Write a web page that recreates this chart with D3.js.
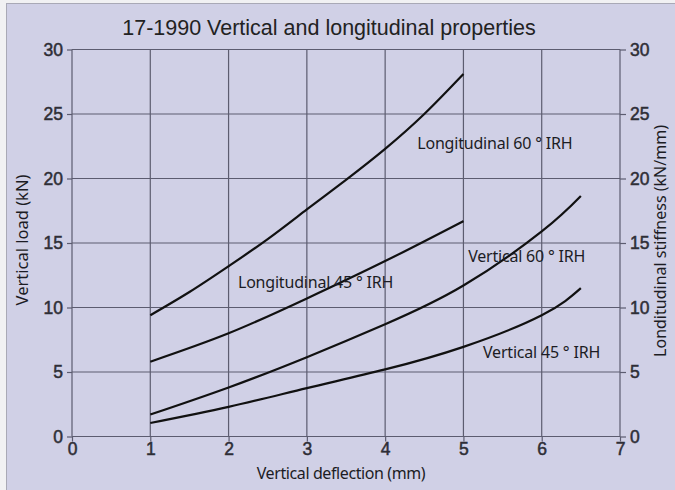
<!DOCTYPE html>
<html lang="en">
	<head>
		<meta charset="UTF-8">
		<title>17-1990 Vertical and longitudinal properties</title>
		<script src="https://d3js.org/d3.v7.min.js"></script>
		<style>
			body {
				margin: 0;
				background: #f1f1f3;
			}

			.tick text {
				font-family: "Liberation Sans", Arial, sans-serif;
				font-size: 17.5px;
				fill: #2e2e36;
				stroke: #2e2e36;
				stroke-width: 0.5;
			}

			.grid line {
				stroke: #5c5c70;
				stroke-width: 1.2;
			}

			.curve {
				fill: none;
				stroke: #111;
				stroke-width: 2.2;
			}

			.label {
				font-family: "Noto Sans", "Open Sans", sans-serif;
				font-size: 16px;
				letter-spacing: -0.2px;
				fill: #1c1c24;
			}

			.title {
				font-family: "Noto Sans", sans-serif;
				fill: #1c1c24;
				text-anchor: middle;
			}
		</style>
	</head>
	<body>
		<div id="chart"></div>
		<script>
			const xTicks = [0, 1, 2, 3, 4, 5, 6, 7]
			const yTicks = [0, 5, 10, 15, 20, 25, 30]

			// curves
			const long60X = [1, 1.5, 2, 2.5, 3, 3.5, 4, 4.5, 5]
			const long60Y = [9.4, 11.2, 13.2, 15.3, 17.6, 19.9, 22.3, 25.0, 28.1]
			const long45X = [1, 2, 3, 4, 5]
			const long45Y = [5.8, 8.0, 10.7, 13.6, 16.7]
			const vert60X = [1, 2, 3, 4, 5, 6, 6.5]
			const vert60Y = [1.7, 3.8, 6.15, 8.7, 11.7, 15.9, 18.65]
			const vert45X = [1, 2, 3, 4, 5, 6, 6.5]
			const vert45Y = [1.05, 2.3, 3.75, 5.2, 6.95, 9.4, 11.5]

			const curveNames = ["Longitudinal 60 ° IRH", "Longitudinal 45 ° IRH", "Vertical 60 ° IRH", "Vertical 45 ° IRH"]
			const labelX = [4.41, 2.12, 5.06, 5.25]
			const labelY = [22.3, 11.5, 13.5, 6.1]

			const width = 675
			const height = 490

			const svg = d3.select("#chart").append("svg")
				.attr("width", width)
				.attr("height", height)

			svg.append("rect")
				.attr("x", 6.5)
				.attr("y", 3.5)
				.attr("width", width)
				.attr("height", height)
				.attr("fill", "#d0d0e6")
				.attr("stroke", "#a9a9b6")

			const x = d3.scaleLinear().domain([0, 7]).range([72, 620])
			const y = d3.scaleLinear().domain([0, 30]).range([436.5, 49.5])

			// grid
			svg.append("g").classed("grid", true)
				.selectAll("line")
				.data(xTicks)
				.join("line")
				.attr("x1", d => x(d)).attr("x2", d => x(d))
				.attr("y1", y(0)).attr("y2", y(30))
			svg.append("g").classed("grid", true)
				.selectAll("line")
				.data(yTicks)
				.join("line")
				.attr("x1", x(0)).attr("x2", x(7))
				.attr("y1", d => y(d)).attr("y2", d => y(d))

			function styleAxis(g) {
				g.select(".domain").remove()
				g.selectAll(".tick line").attr("stroke", "#5c5c70").attr("stroke-width", 1.2)
			}

			svg.append("g")
				.attr("transform", `translate(${x(0)},0)`)
				.call(d3.axisLeft(y).tickValues(yTicks).tickFormat(d3.format("d")).tickSize(5).tickPadding(4))
				.call(styleAxis)
			svg.append("g")
				.attr("transform", `translate(${x(7)},0)`)
				.call(d3.axisRight(y).tickValues(yTicks).tickFormat(d3.format("d")).tickSize(6).tickPadding(4))
				.call(styleAxis)
			svg.append("g")
				.attr("transform", `translate(0,${y(0)})`)
				.call(d3.axisBottom(x).tickValues(xTicks).tickFormat(d3.format("d")).tickSize(5).tickPadding(1))
				.call(styleAxis)

			const line = d3.line()
				.x(d => x(d[0]))
				.y(d => y(d[1]))
				.curve(d3.curveNatural)

			const series = [
				d3.zip(long60X, long60Y),
				d3.zip(long45X, long45Y),
				d3.zip(vert60X, vert60Y),
				d3.zip(vert45X, vert45Y)
			]

			svg.append("g")
				.selectAll("path")
				.data(series)
				.join("path")
				.classed("curve", true)
				.attr("d", line)

			svg.append("g")
				.selectAll("text")
				.data(curveNames)
				.join("text")
				.classed("label", true)
				.attr("x", (d, i) => x(labelX[i]))
				.attr("y", (d, i) => y(labelY[i]))
				.text(d => d)

			// titles
			svg.append("text")
				.attr("x", 329)
				.attr("y", 35)
				.attr("text-anchor", "middle")
				.style("font-family", "'Liberation Sans Narrow', 'Liberation Sans', sans-serif")
				.style("font-size", "21.5px")
				.style("fill", "#222")
				.text("17-1990 Vertical and longitudinal properties")

			svg.append("text")
				.classed("title", true)
				.attr("x", 341)
				.attr("y", 479)
				.style("font-size", "16px")
				.style("letter-spacing", "-0.4px")
				.text("Vertical deflection (mm)")

			svg.append("text")
				.classed("title", true)
				.attr("transform", "translate(28,240) rotate(-90)")
				.style("font-size", "16.5px")
				.text("Vertical load (kN)")

			svg.append("text")
				.classed("title", true)
				.attr("transform", "translate(666,241) rotate(-90)")
				.style("font-size", "16px")
				.text("Londitudinal stiffness (kN/mm)")
		</script>
	</body>
</html>
